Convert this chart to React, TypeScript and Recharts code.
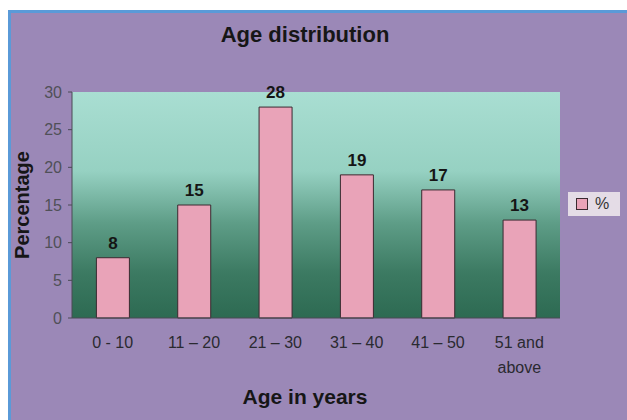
import { BarChart, Bar, XAxis, YAxis, CartesianGrid, LabelList } from "recharts";

const ageGroups = ["0 - 10", "11 – 20", "21 – 30", "31 – 40", "41 – 50", "51 and above"];
const percentages = [8, 15, 28, 19, 17, 13];
const yTicks = [0, 5, 10, 15, 20, 25, 30];

const data = ageGroups.map((name, i) => ({ name, pct: percentages[i] }));

const FONT = '"Liberation Sans", Arial, sans-serif';

function AgeTick({ x, y, payload }: any) {
    const lines = payload.value === "51 and above" ? ["51 and", "above"] : [payload.value];
    return (
        <text x={x} y={y + 11} textAnchor="middle" fill="#2a2a30" fontSize={16} fontFamily={FONT}>
            {lines.map((l: string, i: number) => (
                <tspan key={i} x={x} dy={i === 0 ? "0.71em" : 25}>{l}</tspan>
            ))}
        </text>
    );
}

export default function App() {
    return (
        <div style={{ position: "fixed", left: 0, top: 0, width: 627, height: 420, background: "#fff", overflow: "hidden" }}>
            <div style={{ position: "absolute", left: 8, top: 10, width: 619, height: 410, boxSizing: "border-box", background: "#9b88b7", borderTop: "3px solid #5a9ad8", borderLeft: "3px solid #5a9ad8" }} />
            <div style={{ position: "absolute", left: 0, top: 0 }}>
                <BarChart width={627} height={420} data={data} margin={{ top: 92, right: 67, bottom: 52, left: 0 }} barCategoryGap="30%">
                    <defs>
                        <linearGradient id="plotBg" x1="0" y1="0" x2="0" y2="1">
                            <stop offset="0%" stopColor="#a9ded2" />
                            <stop offset="35%" stopColor="#96d1c2" />
                            <stop offset="58%" stopColor="#5e9d87" />
                            <stop offset="80%" stopColor="#3c7a62" />
                            <stop offset="100%" stopColor="#2d6a52" />
                        </linearGradient>
                    </defs>
                    <CartesianGrid horizontal={false} vertical={false} fill="url(#plotBg)" fillOpacity={1} />
                    <XAxis dataKey="name" tick={<AgeTick />} tickLine={false} axisLine={{ stroke: "#4a4a55" }} height={50} interval={0} />
                    <YAxis domain={[0, 30]} ticks={yTicks} width={72} tickSize={4} tickMargin={6} axisLine={{ stroke: "#4a4a55" }} tickLine={{ stroke: "#4a4a55" }} tick={{ fill: "#505058", fontSize: 16, fontFamily: FONT }} />
                    <Bar dataKey="pct" name="%" fill="#e9a3b8" stroke="#3a2a30" strokeWidth={1} isAnimationActive={false}>
                        <LabelList dataKey="pct" position="top" offset={9} fill="#151515" fontSize={17} fontWeight="bold" fontFamily={FONT} />
                    </Bar>
                </BarChart>
            </div>
            <div style={{ position: "absolute", left: 568, top: 192, width: 52, height: 24, boxSizing: "border-box", background: "#e4dce6", padding: "0 8px", display: "flex", alignItems: "center", gap: 7, fontFamily: FONT, fontSize: 16, color: "#333" }}>
                <span style={{ width: 10, height: 10, background: "#e9a3b8", border: "1px solid #3a2a30", display: "inline-block" }} />
                <span>%</span>
            </div>
            <div style={{ position: "absolute", left: 0, width: 610, top: 22, textAlign: "center", fontFamily: FONT, fontWeight: "bold", fontSize: 22, color: "#161616" }}>
                Age distribution
            </div>
            <div style={{ position: "absolute", left: 0, width: 610, top: 385, textAlign: "center", fontFamily: FONT, fontWeight: "bold", fontSize: 21, color: "#161616" }}>
                Age in years
            </div>
            <div style={{ position: "absolute", left: 22, top: 205, transform: "translate(-50%, -50%) rotate(-90deg)", fontFamily: FONT, fontWeight: "bold", fontSize: 20, color: "#161616", whiteSpace: "nowrap" }}>
                Percentage
            </div>
        </div>
    );
}
